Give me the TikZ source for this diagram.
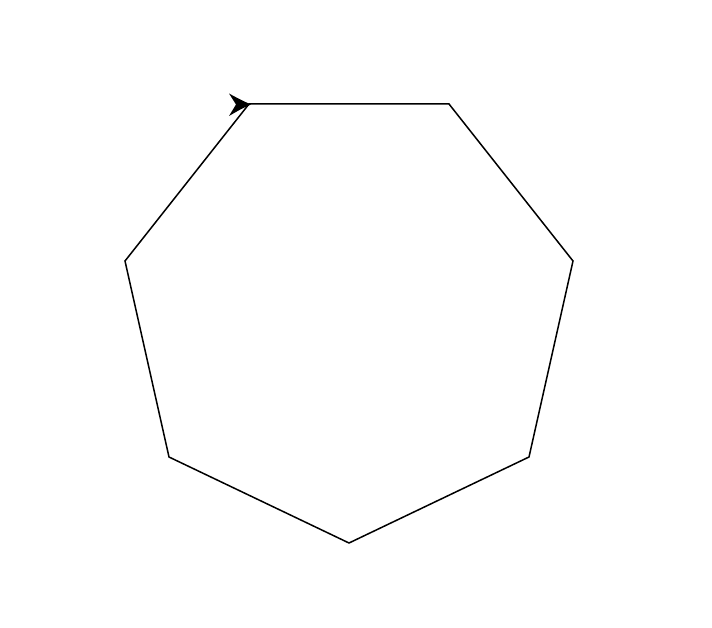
\documentclass[tikz,border=0pt]{standalone}
\usetikzlibrary{arrows.meta}
\tikzset{edge/.style={line width=1.5pt,black}, tipfill/.style={fill=black,draw=none}}
\begin{document}
\begin{tikzpicture}[x=1pt,y=-1pt]
\useasboundingbox (0,0) rectangle (712,628);
\coordinate (v1) at (249,104);
\coordinate (v2) at (449,104);
\coordinate (v3) at (573,261);
\coordinate (v4) at (529,457);
\coordinate (v5) at (349,543);
\coordinate (v6) at (169,457);
\coordinate (v7) at (125,261);
\coordinate (t1) at (229,93.5);
\coordinate (t2) at (236,104.5);
\coordinate (t3) at (229,116);
\draw[edge,line join=miter] (v1) -- (v2) -- (v3) -- (v4) -- (v5) -- (v6) -- (v7) -- cycle;
\fill[tipfill] (251,104.5) .. controls (241,100) .. (t1) -- (t2) -- (t3) .. controls (241,109) .. (251,104.5) -- cycle;
\end{tikzpicture}
\end{document}
